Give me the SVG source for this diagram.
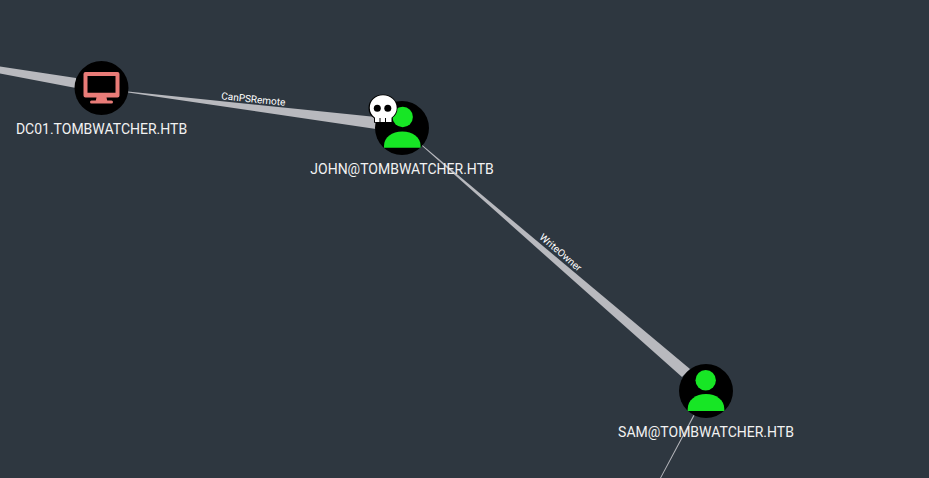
<svg xmlns="http://www.w3.org/2000/svg" width="929" height="478" viewBox="0 0 929 478">
<style>
.edge{fill:#b8b9be}
.disc{fill:#000}
.lbl{font-family:Roboto,"Liberation Sans",sans-serif;font-size:14px;fill:#f2f2f2;text-anchor:middle}
.elbl{font-family:Roboto,"Liberation Sans",sans-serif;font-size:10px;fill:#fff;text-anchor:middle}
.user{fill:#17e625}
</style>
<rect width="929" height="478" fill="#2e3740"/>
<g id="connectors">
<polygon class="edge" points="0,66.500 76,78 76,88 0,73.500"/>
<polygon class="edge" points="128,91.500 376,117 376,129 128,92.500"/>
<polygon class="edge" points="421,144 690,369 682,377 421,145"/>
<polygon class="edge" points="693.500,415 694.500,415.500 661,478 660,478"/>
<text class="elbl" transform="translate(253,102.500) rotate(6)">CanPSRemote</text>
<text class="elbl" transform="translate(558.500,255) rotate(40.500)">WriteOwner</text>
</g>
<g id="dc01">
<circle class="disc" cx="101.500" cy="88" r="27"/>
<path fill="#e97c78" fill-rule="evenodd" d="M85.500 72h32a2 2 0 0 1 2 2v21.500a2 2 0 0 1-2 2h-11l.7 3h4.300a1.500 1.500 0 0 1 0 3h-20a1.500 1.500 0 0 1 0-3h4.300l.7-3h-11a2 2 0 0 1-2-2v-21.500a2 2 0 0 1 2-2zM87.500 76v16.700h28v-16.700z"/>
<text class="lbl" x="101.500" y="133.500">DC01.TOMBWATCHER.HTB</text>
</g>
<g id="john">
<circle class="disc" cx="402" cy="128" r="27"/>
<circle class="user" cx="402.700" cy="117" r="10.200"/>
<path class="user" d="M384 147.700v-1.700c0-9 8-14.500 18.300-14.500s18.300 5.500 18.300 14.500v1.700z"/>
<g id="john-skull">
<path fill="#000" d="M383 94.500c8.500 0 14.500 6 14.500 13.500 0 4.500-2 8-5.500 10.300v4.500h-18v-4.500c-3.500-2.300-5.500-5.800-5.500-10.300 0-7.500 6-13.500 14.500-13.500z"/>
<path fill="#fff" d="M383 95.300c7.800 0 13.700 5.600 13.700 12.700 0 4.200-2 7.400-5.200 9.700v4.400h-16.500v-4.400c-3.200-2.300-5.200-5.500-5.200-9.700 0-7.100 5.400-12.700 13.200-12.700z"/>
<circle cx="377.300" cy="108.300" r="3.500" fill="#000"/>
<circle cx="387.800" cy="108.300" r="3.500" fill="#000"/>
<rect x="379.500" y="118" width="1" height="4.500" fill="#000"/>
<rect x="385" y="118" width="1" height="4.500" fill="#000"/>
</g>
<text class="lbl" x="402" y="173.500">JOHN@TOMBWATCHER.HTB</text>
</g>
<g id="sam">
<circle class="disc" cx="706" cy="391" r="27"/>
<circle class="user" cx="705.700" cy="380.300" r="10.200"/>
<path class="user" d="M687.700 411v-2c0-9 8-15 18.300-15s18.300 6 18.300 15v2z"/>
<text class="lbl" x="706" y="436.500">SAM@TOMBWATCHER.HTB</text>
</g>
</svg>
